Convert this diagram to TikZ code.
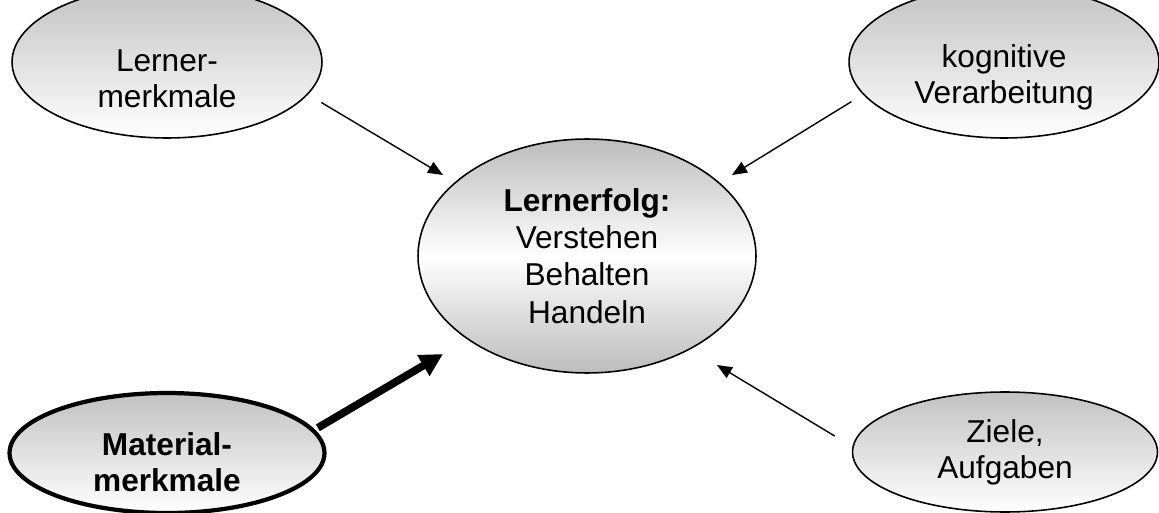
\documentclass[tikz,border=0pt]{standalone}
\usepackage{fontspec}
\setmainfont{Liberation Sans}
\usetikzlibrary{shapes.geometric,arrows.meta}

% erste Zeile etwas tiefer setzen
\newcommand{\tiefer}[1]{\rule{0pt}{#1}}

\begin{document}
\begin{tikzpicture}[x=0.02cm,y=-0.02cm,
		faktor/.style={ellipse, draw, line width=0.9pt, inner sep=0pt,
			top color=black!24, bottom color=white, align=center,
			minimum width=6.2cm, minimum height=2.4cm,
			font=\fontsize{18}{20.5}\selectfont},
		pfeil/.style={-{Triangle[length=8.5pt,width=7pt]}, line width=0.8pt},
		dickpfeil/.style={-{Triangle[length=13pt,width=13pt]}, line width=4.4pt}]

				\useasboundingbox (0,0) rectangle (1159,513);

				% Einflussfaktoren
				\node[faktor, minimum height=3.04cm] (lerner) at (167,62) {\tiefer{31pt}Lerner-\\merkmale};
				\node[faktor, minimum height=3.04cm] (kognition) at (1004,62) {\tiefer{31pt}kognitive\\Verarbeitung};
				\node[faktor, line width=2.4pt, minimum width=6.3cm, font=\fontsize{18}{20.5}\selectfont\bfseries]
						(material) at (167,453) {\tiefer{23pt}Material-\\merkmale};
				\node[faktor, minimum width=6.1cm] (ziele) at (1005,452) {Ziele,\\Aufgaben};

				% Lernerfolg in der Mitte
				\node[faktor, top color=black!26, bottom color=black!26, middle color=white,
						minimum width=6.76cm, minimum height=4.68cm, font=\fontsize{18}{21.2}\selectfont]
						(erfolg) at (587,256) {\textbf{Lernerfolg:}\\Verstehen\\Behalten\\Handeln};

				\coordinate (spitzeA) at (443,175);
				\coordinate (spitzeB) at (732,175);
				\coordinate (spitzeC) at (443,354);
				\coordinate (spitzeD) at (717,365);

				\draw[pfeil, shorten <=0.31cm] (lerner.-13.1) -- (spitzeA);
				\draw[pfeil, shorten <=0.27cm] (kognition.193.7) -- (spitzeB);
				\draw[dickpfeil, shorten <=2pt] (material.9) -- (spitzeC);
				\draw[pfeil, shorten <=0.41cm] (ziele.178) -- (spitzeD);
		\end{tikzpicture}
\end{document}
